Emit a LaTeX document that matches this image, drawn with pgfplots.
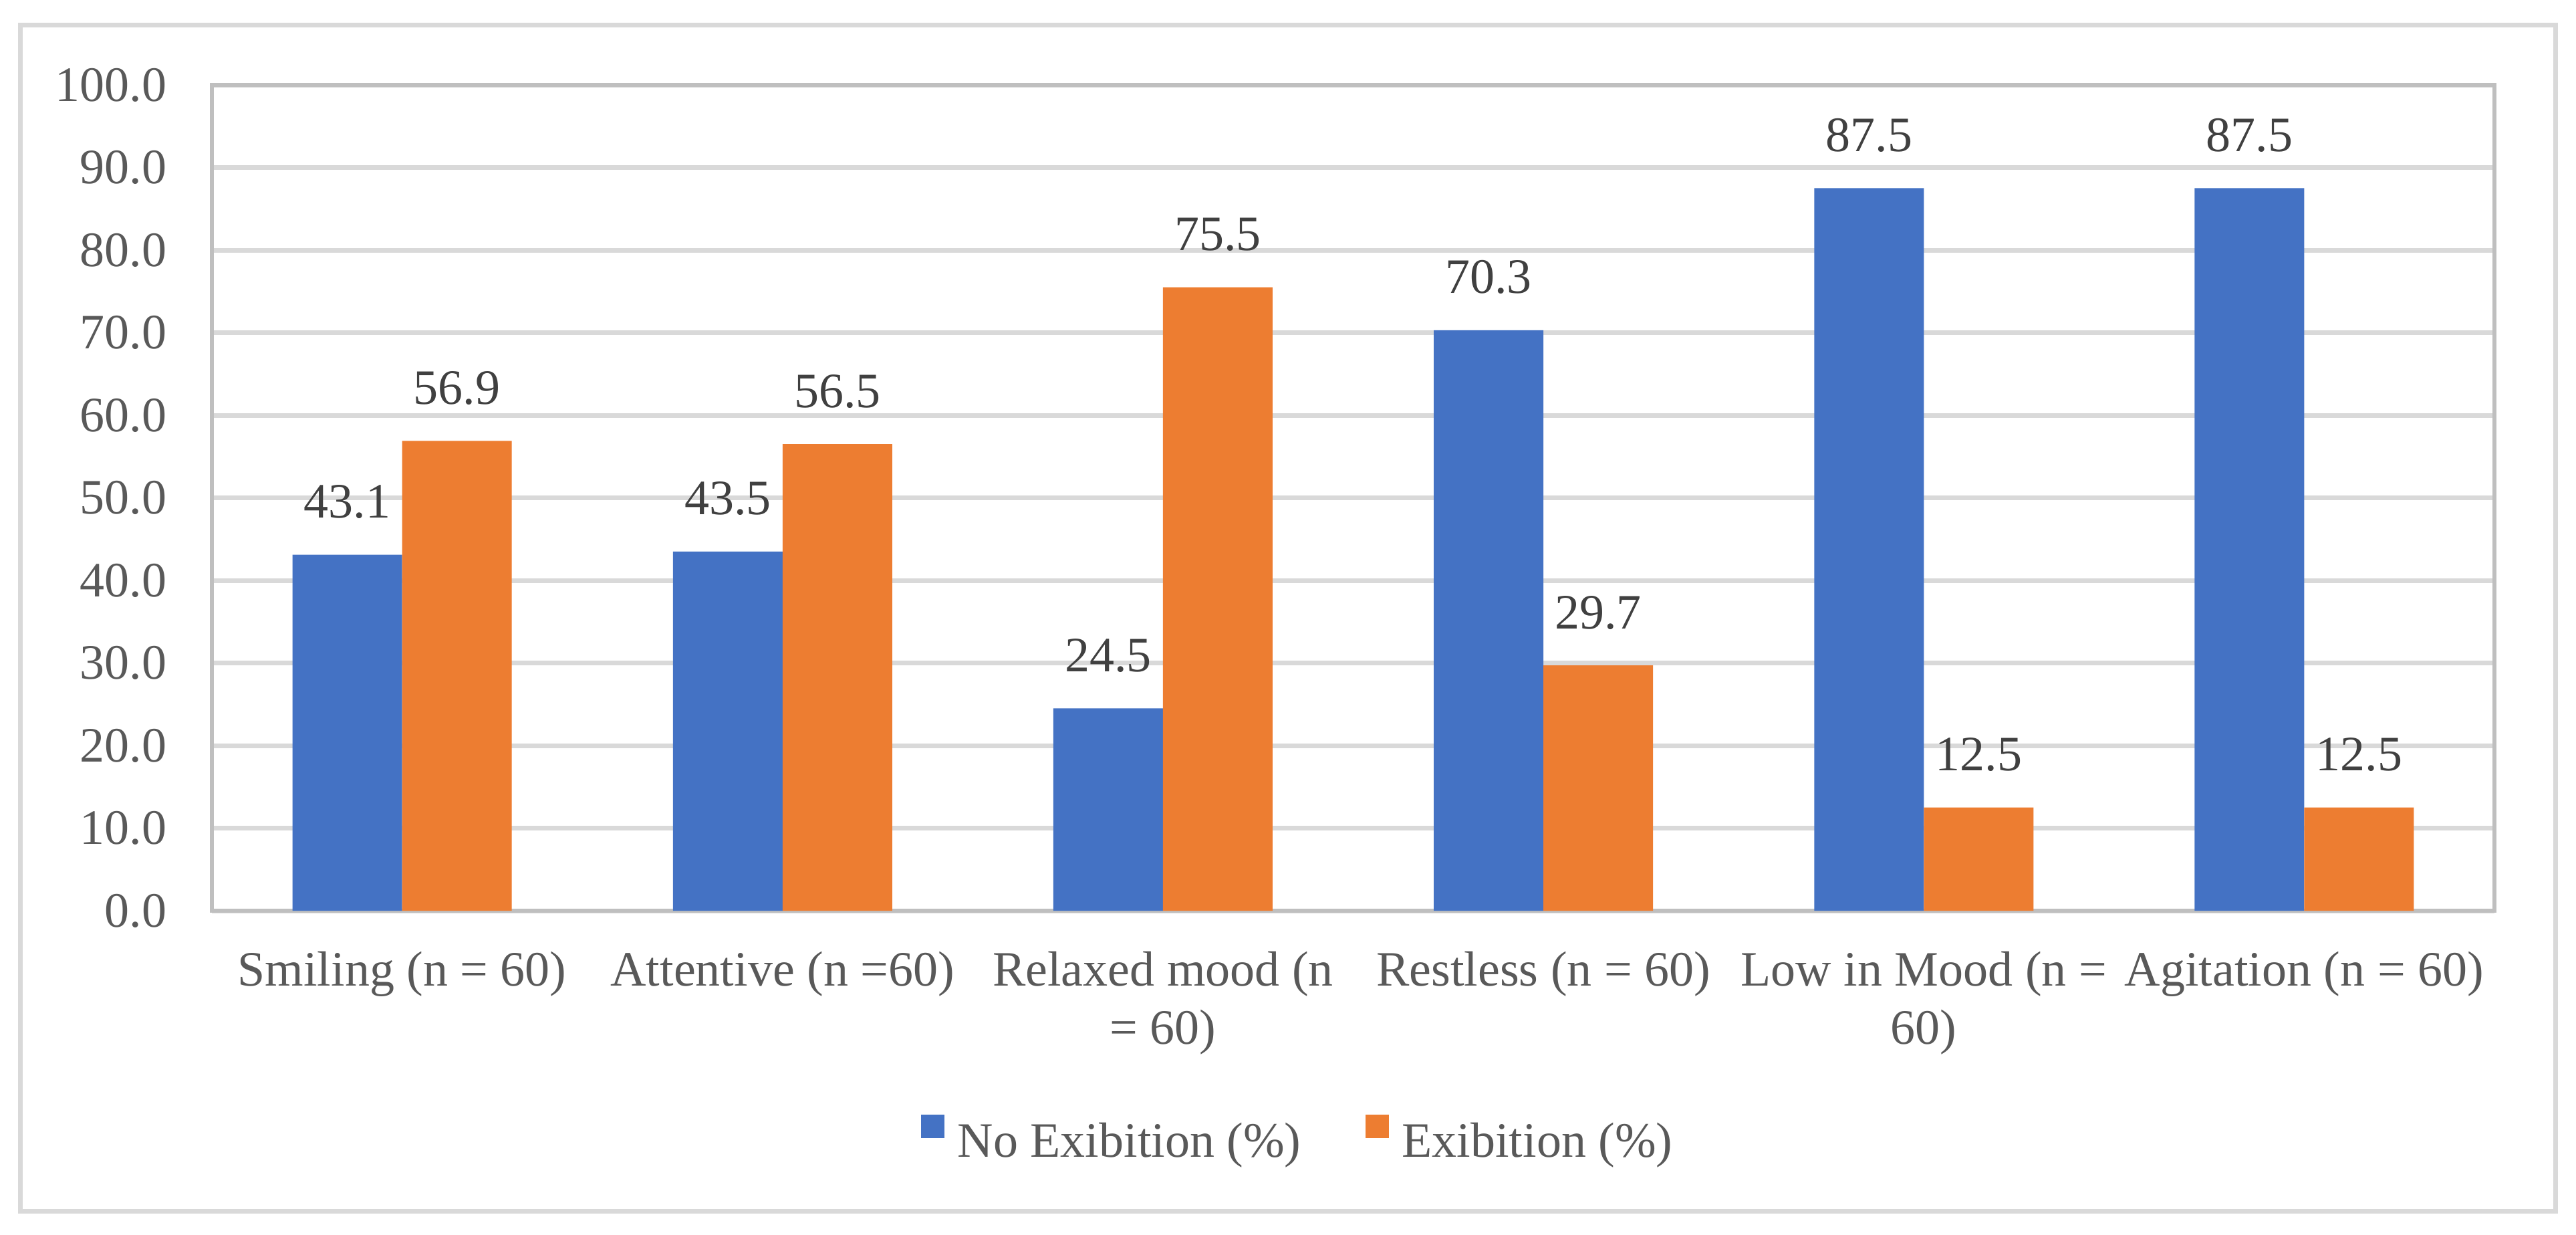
\documentclass[border=0pt]{standalone}
\usepackage{fontspec}
\setmainfont{Liberation Serif}
\usepackage{pgfplots}
\pgfplotsset{compat=1.18}
\definecolor{exblue}{HTML}{4472C4}
\definecolor{exorange}{HTML}{ED7D31}
\definecolor{gridgray}{HTML}{D9D9D9}
\definecolor{axisgray}{HTML}{BFBFBF}
\definecolor{ticktext}{HTML}{595959}
\definecolor{labeltext}{HTML}{404040}
\newcommand\chartfont{\fontsize{18.5}{21.75}\selectfont}

\begin{document}
\begin{tikzpicture}
% page is 3854 x 1846 px at 0.25pt per px, origin at lower left of plot area
\path[use as bounding box, fill=white] (-79.25pt,-121pt) rectangle (884.25pt,340.5pt);
\draw[gridgray, line width=1.75pt] (-71.6pt,-112.4pt) rectangle (876.6pt,331.1pt);
\begin{axis}[
    at={(0pt,0pt)}, anchor=south west,
    width=853.75pt, height=308.75pt, scale only axis,
    ybar, bar width=41pt,
    xmin=-0.5, xmax=5.5, ymin=0, ymax=100,
    enlargelimits=false,
    xtick={0,...,5},
    ytick={0,10,...,100},
    xticklabels={{Smiling (n = 60)},{Attentive (n =60)},{Relaxed mood (n\\= 60)},{Restless (n = 60)},{Low in Mood (n =\\60)},{Agitation (n = 60)}},
    /pgf/number format/.cd, fixed, fixed zerofill, precision=1, assume math mode=true,
    /pgfplots/.cd,
    tick style={draw=none}, major tick length=0pt,
    ymajorgrids, grid style={gridgray, line width=1.75pt},
    axis line style={axisgray, line width=1.4pt},
    yticklabel style={font=\chartfont, text=ticktext, anchor=east, inner sep=0pt, xshift=-16.75pt},
    xticklabel style={font=\chartfont, text=ticktext, align=center, anchor=north, inner sep=0pt, yshift=-15pt},
    nodes near coords,
    nodes near coords style={font=\chartfont, text=labeltext, anchor=south, inner sep=0pt, yshift=13.25pt},
    legend columns=2,
    legend style={at={(axis description cs:0.4753,-0.2753)}, anchor=center, draw=none, fill=none,
        inner sep=0pt, font=\chartfont, text=ticktext, nodes={inner sep=0pt},
        column sep=5pt, /tikz/every even column/.append style={column sep=24pt}},
    legend image code/.code={\fill[#1] (0pt,1.5pt) rectangle (8.75pt,10.25pt);},
    clip=false,
]
\addplot[fill=exblue, draw=none, bar shift=-20.5pt] coordinates {
    (0,43.1) (1,43.5) (2,24.5) (3,70.3) (4,87.5) (5,87.5)
};
\addplot[fill=exorange, draw=none, bar shift=20.5pt] coordinates {
    (0,56.9) (1,56.5) (2,75.5) (3,29.7) (4,12.5) (5,12.5)
};
\legend{No Exibition (\%), Exibition (\%)}
\end{axis}
\end{tikzpicture}
\end{document}
